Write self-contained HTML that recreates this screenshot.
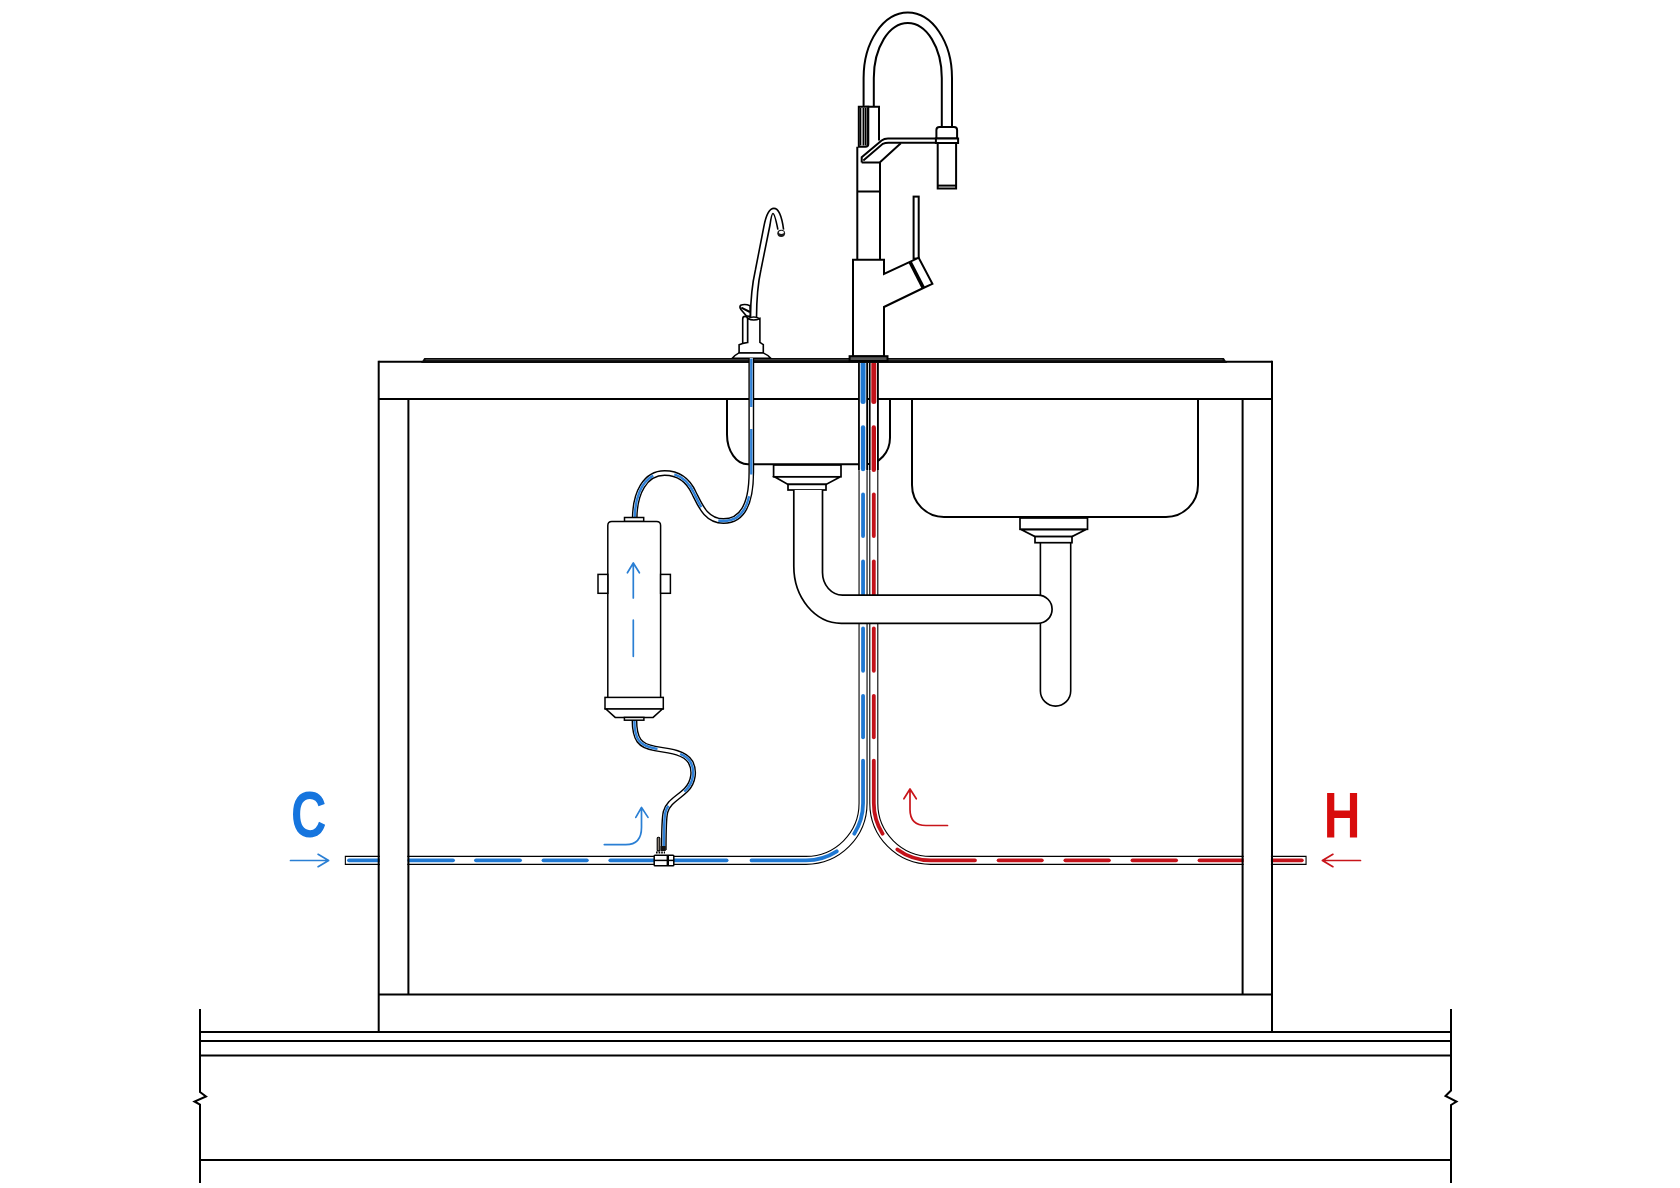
<!DOCTYPE html>
<html><head><meta charset="utf-8"><title>Sink plumbing diagram</title>
<style>
html,body{margin:0;padding:0;background:#fff;}
body{width:1680px;height:1188px;overflow:hidden;}
svg{display:block;}
</style></head>
<body>
<svg width="1680" height="1188" viewBox="0 0 1680 1188">
<rect width="1680" height="1188" fill="#fff"/>
<g fill="none" stroke="#000" stroke-width="2">
<path d="M200,1009 V1092 L206,1096.5 L194.5,1101.5 L200,1104.5 V1183"/>
<path d="M1451,1009 V1090.5 L1445.5,1096 L1456.5,1101.5 L1451,1105 V1183"/>
<path d="M200,1032 H1451 M200,1041 H1451 M200,1055.5 H1451 M200,1160 H1451"/>
<path d="M378.7,361.8 H1272 M378.7,399 H1272"/>
<path d="M727,399 V434.5 A21,29.8 0 0 0 748,464.3 H866 A24,26.5 0 0 0 890,437.8 V399"/>
<path d="M912,399 V485 A32,32 0 0 0 944,517 H1166 A32,32 0 0 0 1198,485 V399"/>
</g>

<g fill="none" stroke-linecap="butt">
<path d="M344.8,860.35 H806 A57.05,57.05 0 0 0 863.05,803.3 V361" stroke="#000" stroke-width="9.1"/>
<path d="M345.9,860.35 H806 A57.05,57.05 0 0 0 863.05,803.3 V361" stroke="#fff" stroke-width="6.9"/>
<path d="M1306.6,860.35 H930.85 A57.05,57.05 0 0 1 873.8000000000001,803.3 V361" stroke="#000" stroke-width="9.1"/>
<path d="M1305.5,860.35 H930.85 A57.05,57.05 0 0 1 873.8000000000001,803.3 V361" stroke="#fff" stroke-width="6.9"/>
<path d="M863.05,470 V361" stroke="#000" stroke-width="9.9"/>
<path d="M863.05,471 V361" stroke="#fff" stroke-width="6.4"/>
<path d="M873.8000000000001,470 V361" stroke="#000" stroke-width="9.9"/>
<path d="M873.8000000000001,471 V361" stroke="#fff" stroke-width="6.4"/>
</g>
<g fill="none" stroke-linecap="round" stroke-width="3.8">
<path d="M349,860.35 H386" stroke="#1f78d2"/>
<path d="M409,860.35 H453" stroke="#1f78d2"/>
<path d="M476,860.35 H520" stroke="#1f78d2"/>
<path d="M543.5,860.35 H586.8" stroke="#1f78d2"/>
<path d="M610.3,860.35 H654" stroke="#1f78d2"/>
<path d="M673,860.35 H726.6" stroke="#1f78d2"/>
<path d="M751.5,860.35 H806 A57.05,57.05 0 0 0 836.74,851.36" stroke="#1f78d2"/>
<path d="M854.28,833.70 A57.05,57.05 0 0 0 863.05,803.3 V760.6" stroke="#1f78d2"/>
<path d="M863.05,401.6 V364" stroke="#1f78d2" stroke-width="5"/>
<path d="M863.05,469 V427.5" stroke="#1f78d2" stroke-width="4.4"/>
<path d="M863.05,536 V494.5" stroke="#1f78d2"/>
<path d="M863.05,603 V561.5" stroke="#1f78d2"/>
<path d="M863.05,670.8 V628.5" stroke="#1f78d2"/>
<path d="M863.05,737.3 V695.8" stroke="#1f78d2"/>
<path d="M873.8000000000001,401.6 V364" stroke="#c3121a" stroke-width="5"/>
<path d="M873.8000000000001,469.7 V427.5" stroke="#c3121a" stroke-width="4.4"/>
<path d="M873.8000000000001,536 V494.5" stroke="#c3121a"/>
<path d="M873.8000000000001,603 V561.5" stroke="#c3121a"/>
<path d="M873.8000000000001,670.8 V628.5" stroke="#c3121a"/>
<path d="M873.8000000000001,737.3 V695.8" stroke="#c3121a"/>
<path d="M873.8000000000001,760.6 V803.3 A57.05,57.05 0 0 0 882.57,833.70" stroke="#c3121a"/>
<path d="M897.32,849.45 A57.05,57.05 0 0 0 930.85,860.3499999999999 H975" stroke="#c3121a"/>
<path d="M998.6,860.35 H1041.8" stroke="#c3121a"/>
<path d="M1065.4,860.35 H1108.9" stroke="#c3121a"/>
<path d="M1132.5,860.35 H1176.1" stroke="#c3121a"/>
<path d="M1199.5,860.35 H1248" stroke="#c3121a"/>
<path d="M1267,860.35 H1301.8" stroke="#c3121a"/>
</g>
<rect x="379.8" y="850" width="27.5" height="20" fill="#fff"/>
<rect x="1243.7" y="850" width="27.2" height="20" fill="#fff"/>
<g fill="none" stroke="#000" stroke-width="2">
<path d="M378.7,360.8 V1032 M1272,360.8 V1032 M378.7,994.5 H1272 M408.4,399 V994.5 M1242.6,399 V994.5"/>
</g>

<g fill="#fff" stroke="#000" stroke-width="1.7">
<path d="M1040.4,542.7 V691 A15.15,15.15 0 0 0 1070.7,691 V542.7" stroke-width="1.6"/>
<rect x="1020" y="518" width="67.5" height="11.3"/>
<polygon points="1021,529.6 1086,529.6 1072,536.6 1035,536.6"/>
<rect x="1035" y="536.6" width="37" height="6.1"/>
<rect x="773.6" y="465" width="67.4" height="11.8"/>
<polygon points="775,477 840,477 826,484.4 788,484.4"/>
<rect x="788" y="484.4" width="38" height="5.6"/>
<path d="M793.8,490 V566 A47.5,57 0 0 0 841.3,623.3 H1038 A14.1,14.1 0 0 0 1038,595.1 H842.5 A20,22.5 0 0 1 822.5,572.6 V490 Z" stroke="none"/>
<path d="M793.8,490 V566 A47.5,57 0 0 0 841.3,623.3 H1038 A14.1,14.1 0 0 0 1038,595.1 H842.5 A20,22.5 0 0 1 822.5,572.6 V490" fill="none"/>
</g>

<polygon points="421,362.9 424.3,357.9 1223.8,357.9 1227.2,362.9" fill="#0a0a0a"/>
<path d="M425.5,359.8 H1222.5" stroke="#4a4a4a" stroke-width="1.1"/>

<g fill="#fff" stroke="#000" stroke-width="2" stroke-linejoin="miter">
<!-- hose -->
<path fill="none" d="M863.6,107 V78 A44.2,65.4 0 0 1 952,78 V127"/>
<path fill="none" d="M873.8,107 V78 A34,55 0 0 1 941.8,78 V127"/>
<!-- column -->
<path fill="none" d="M857.3,146.8 V260 M880,162.5 V260 M857.3,191.5 H880"/>
<!-- clip -->
<path fill="none" d="M866.1,140 V106.7 H879 V140.5"/>
<path d="M858.8,146.8 V106.7 H868.3 V144 Q868.3,146.8 865.5,146.8 Z"/>
<path fill="none" stroke-width="1.5" d="M860.6,108 V145.5 M863.3,108 V145.5 M865.3,108 V145.5 M867.2,108 V145.5"/>
<!-- spout bar -->
<path fill="none" d="M861.7,162.5 V157.2 L881.6,140.5 Q884.2,138.6 888,138.6 H936"/>
<path fill="none" d="M863.3,160.5 L882.8,143.8 Q885.2,142.7 888.5,142.7 H936"/>
<path fill="none" d="M861.7,162.5 H879.7 L900.8,143.2"/>
<!-- spray head -->
<path d="M936.4,138.5 V130 Q936.4,126.9 939.5,126.9 H954 Q957.1,126.9 957.1,130 V138.5 Z"/>
<rect x="935.9" y="138.5" width="22.2" height="4.5"/>
<rect x="937.7" y="143" width="18.4" height="45.5"/>
<path fill="none" d="M937.7,185.6 H956.1"/>
<!-- lever rod -->
<rect x="913.6" y="196.6" width="5.1" height="62"/>
<!-- body -->
<path d="M853,356.5 V259.8 H884 V274 L909.9,261.9 L918.7,257.7 L932.4,283.8 L923.3,288 L884,307 V356.5 Z"/>
<path fill="none" stroke-width="3.6" d="M910.2,262.3 L923.2,287.6"/>
<!-- base flange -->
<rect x="849.6" y="356.2" width="37.9" height="4.8" fill="#555"/>
</g>
<!-- RO faucet -->
<g fill="#fff" stroke="#000" stroke-width="1.6">
<path fill="none" d="M750.5,317 C750.6,300 752,285 755.4,270 L763.8,226.9 C766,215 769,208.4 773.9,208.4 C778.5,208.4 781.5,214 783.6,229.6"/>
<path fill="none" d="M756.5,318 C756.6,300 757.5,285 760.9,270 L770,225 C771,218 772,213.5 772.9,213.5 C774.5,213.5 776,220 777.9,229.6"/>
<ellipse cx="781.2" cy="233.3" rx="3.9" ry="3.6" fill="#1a1a1a" stroke="none"/>
<ellipse cx="781.4" cy="232.3" rx="2.6" ry="1.6" fill="#fff" stroke="none"/>
<path d="M750,305.8 Q745,303.4 740.6,305.3 Q739.2,306.8 740.7,309.2 L746.3,315.8 L750.3,316.5 Z"/>
<path fill="none" d="M741.3,307.7 L749.9,312" stroke-width="2"/>
<path d="M742.7,343.5 V319 Q742.7,316.4 745,316.4 Q747.7,316.4 747.7,319 V342.5 Q745,343.8 742.7,343.5 Z"/>
<path d="M747.7,342.5 V318.5 Q753.7,321.5 759.9,318.5 V342.4 L763.3,344.7 V353 H739.1 V344.7 Q742,343.5 747.7,342.5 Z"/>
<path fill="none" d="M747.7,318.5 Q753.7,315.5 759.9,318.5" stroke-width="1.3"/>
<path d="M738.6,353.1 H763.6 Q768,355 770.8,358.2 H732.2 Q735,355 738.6,353.1 Z" stroke-width="1.5"/>
</g>

<g fill="none" stroke-linecap="butt">
<path d="M751.3,358 V472 C751.3,500 745,521 723.5,521 C706,521 700,505 694,493 C688,480 678,473 664.6,473 C645,473 635,493 634.7,518" stroke="#000" stroke-width="5.8"/>
<path d="M751.3,358 V472 C751.3,500 745,521 723.5,521 C706,521 700,505 694,493 C688,480 678,473 664.6,473 C645,473 635,493 634.7,518" stroke="#fff" stroke-width="3.0"/>
<path d="M751.3,358.5 V472 C751.3,500 745,521 723.5,521 C706,521 700,505 694,493 C688,480 678,473 664.6,473 C645,473 635,493 634.7,518" stroke="#2f80d6" stroke-width="2.4" stroke-dasharray="48.5 22 45.5 21.7 44.3 22.3 43.7 21.5 60"/>
<path d="M634.4,719 C634.4,740 640,746 655,748.5 C672,751 685,753 690.5,762 C695,770 694,782 686,790 C678,798 668,802 665.5,812 C664,818 663.8,825 663.8,850" stroke="#000" stroke-width="5.8"/>
<path d="M634.4,719 C634.4,740 640,746 655,748.5 C672,751 685,753 690.5,762 C695,770 694,782 686,790 C678,798 668,802 665.5,812 C664,818 663.8,825 663.8,850" stroke="#fff" stroke-width="3.0"/>
<path d="M634.4,720.2 C634.4,740 640,746 655,748.5 C672,751 685,753 690.5,762 C695,770 694,782 686,790 C678,798 668,802 665.5,812 C664,818 663.8,825 663.8,850" stroke="#2f80d6" stroke-width="2.4" stroke-dasharray="42 23.2 46 21.3 50"/>
</g>
<g fill="#fff" stroke="#000" stroke-width="1.5">
<!-- filter -->
<rect x="624.5" y="517.5" width="19.2" height="4" />
<path d="M607.8,697.4 V525.5 Q607.8,521.5 611.8,521.5 H656.6 Q660.6,521.5 660.6,525.5 V697.4"/>
<rect x="598" y="574.4" width="9.8" height="18.9"/>
<rect x="660.6" y="574.4" width="9.8" height="18.9"/>
<rect x="605" y="697.4" width="58.3" height="11.6"/>
<polygon points="605.9,709 662.4,709 653.1,717.4 615.2,717.4"/>
<rect x="624.4" y="717.4" width="19.5" height="2.8"/>
<!-- valve + tee -->
<rect x="657.2" y="837.3" width="2.6" height="13.6" rx="1" fill="#8a8076" stroke-width="1.1"/>
<path d="M656,852.5 H665" fill="none" stroke-width="2" stroke-dasharray="1.6 1"/>
<path d="M660.5,846 H665.8 V851 H660.5 Z" fill="#111" stroke="none"/>
<rect x="654.2" y="855.2" width="19.6" height="10.5" rx="0.8"/>
<path d="M654.2,860.4 H673.8" fill="none"/>
<rect x="666.6" y="855.2" width="2.4" height="10.5" fill="#000" stroke="none"/>
</g>
<g fill="none" stroke="#2a7fd4" stroke-width="1.7" stroke-linecap="round" stroke-linejoin="round">
<path d="M633.3,563.5 V598 M627.4,572.8 L633.3,563 L639.4,572.8 M633.3,620.2 V656.3"/>
<path d="M604.3,844.6 H625.8 Q641.5,844.6 641.5,827.4 V807.6 M635.8,817.4 L641.5,807.4 L648,817.4"/>
<path d="M290.5,860.5 H328.6 M318.1,854.3 L328.6,860.5 L318.1,866.7"/>
</g>
<g fill="none" stroke="#c8141a" stroke-width="1.7" stroke-linecap="round" stroke-linejoin="round">
<path d="M947.5,825.5 H926 Q910,825.5 910,809.5 V789.5 M903.9,798.8 L910,789 L916.3,798.8"/>
<path d="M1360.5,860.5 H1322.4 M1332.9,854.3 L1322.4,860.5 L1332.9,866.7"/>
</g>
<g font-family="Liberation Sans, sans-serif" font-weight="bold">
<text x="0" y="0" fill="#1675de" font-size="65.5" transform="translate(291,837.2) scale(0.75,1)">C</text>
<path fill="#d80c0c" d="M1327.1,792.9 H1334.3 V810.6 H1349.9 V792.9 H1357.1 V837.6 H1349.9 V818 H1334.3 V837.6 H1327.1 Z"/>
</g>

</svg>
</body></html>
